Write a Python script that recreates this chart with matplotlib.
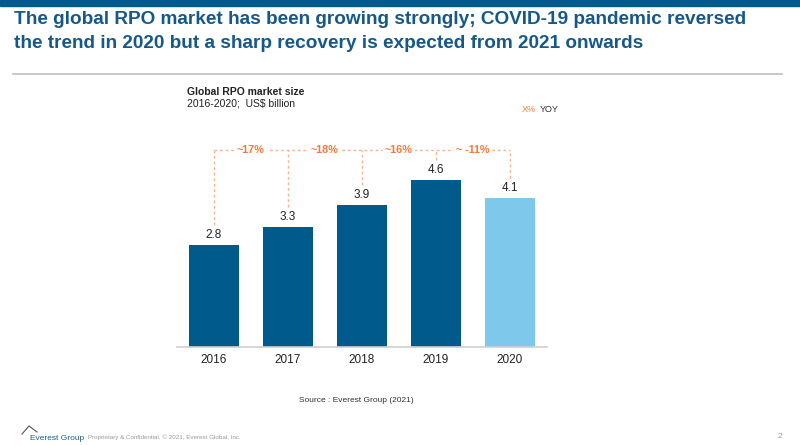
import matplotlib.pyplot as plt

plt.rcParams['font.family'] = ['Liberation Sans', 'DejaVu Sans']

years = ['2016', '2017', '2018', '2019', '2020']
market_size = [2.8, 3.3, 3.9, 4.6, 4.1]
yoy_labels = ['~17%', '~18%', '~16%', '~ -11%']

dark_blue = '#005A8C'
light_blue = '#7EC8EB'
orange = '#F47B3A'
dash_orange = '#F9B48C'

fig = plt.figure(figsize=(8, 4.45), dpi=100)

# top band, title, separator
fig.patches.append(plt.Rectangle((0, 1 - 6 / 445), 1, 6 / 445, transform=fig.transFigure,
                                 color=dark_blue, zorder=0))
fig.text(14 / 800, 1 - 20 / 445, 'The global RPO market has been growing strongly; COVID-19 pandemic reversed',
         fontsize=13.7, fontweight='bold', color='#15598A', va='center')
fig.text(14 / 800, 1 - 43 / 445, 'the trend in 2020 but a sharp recovery is expected from 2021 onwards',
         fontsize=13.7, fontweight='bold', color='#15598A', va='center')
fig.add_artist(plt.Line2D([13 / 800, 782 / 800], [1 - 74 / 445] * 2, transform=fig.transFigure,
                          color='#BFBFBF', lw=1.2))

# chart header
fig.text(187 / 800, 1 - 92 / 445, 'Global RPO market size', fontsize=7.5, fontweight='bold',
         color='#222222', va='center')
fig.text(187 / 800, 1 - 104 / 445, '2016-2020;  US$ billion', fontsize=7.5, color='#222222', va='center')
fig.text(522 / 800, 1 - 110 / 445, 'X%', fontsize=6.5, color=orange, va='center')
fig.text(540 / 800, 1 - 110 / 445, 'YOY', fontsize=6.5, color='#333333', va='center')

ax = fig.add_axes([177 / 800, 1 - 347 / 445, 370 / 800, 207 / 445])
colors = [dark_blue] * 4 + [light_blue]
x = range(len(years))
ax.bar(x, market_size, width=0.68, color=colors, zorder=2)
for i, v in enumerate(market_size):
    ax.text(i, v + 0.12, f'{v:.1f}', ha='center', va='bottom', fontsize=8.5, color='#222222')

line_y = 5.43
for i, v in enumerate(market_size):
    ax.plot([i, i], [v + 0.55, line_y], ls=(0, (2, 2)), color=dash_orange, lw=1, zorder=1)
ax.plot([0, len(years) - 1], [line_y, line_y], ls=(0, (2, 2)), color=dash_orange, lw=1, zorder=1)
for i, lab in enumerate(yoy_labels):
    ax.text(i + 0.5, line_y, lab, ha='center', va='center', fontsize=7.8, color=orange,
            fontweight='bold', bbox=dict(facecolor='white', edgecolor='none', pad=1.5), zorder=3)

ax.set_xlim(-0.5, 4.5)
ax.set_ylim(0, 5.70)
ax.set_xticks(list(x))
ax.set_xticklabels(years, fontsize=8.5, color='#222222')
ax.tick_params(axis='x', length=0, pad=5)
ax.set_yticks([])
for s in ['top', 'right', 'left']:
    ax.spines[s].set_visible(False)
ax.spines['bottom'].set_color('#D0D0D0')
ax.spines['bottom'].set_linewidth(1.2)

fig.text(356 / 800, 1 - 401 / 445, 'Source : Everest Group (2021)', fontsize=6, color='#333333',
         ha='center', va='center')

# footer
fig.add_artist(plt.Line2D([22 / 800, 29 / 800, 37 / 800], [1 - 434 / 445, 1 - 426 / 445, 1 - 432 / 445],
                          transform=fig.transFigure, color='#555555', lw=0.8))
fig.text(30 / 800, 1 - 438 / 445, 'Everest Group', fontsize=6, color='#1A5E8E', va='center')
fig.text(88 / 800, 1 - 437 / 445, 'Proprietary & Confidential. © 2021, Everest Global, Inc.',
         fontsize=4.5, color='#999999', va='center')
fig.text(778 / 800, 1 - 437 / 445, '2', fontsize=6, color='#999999', va='center')

fig.savefig('out.png', dpi=100)
